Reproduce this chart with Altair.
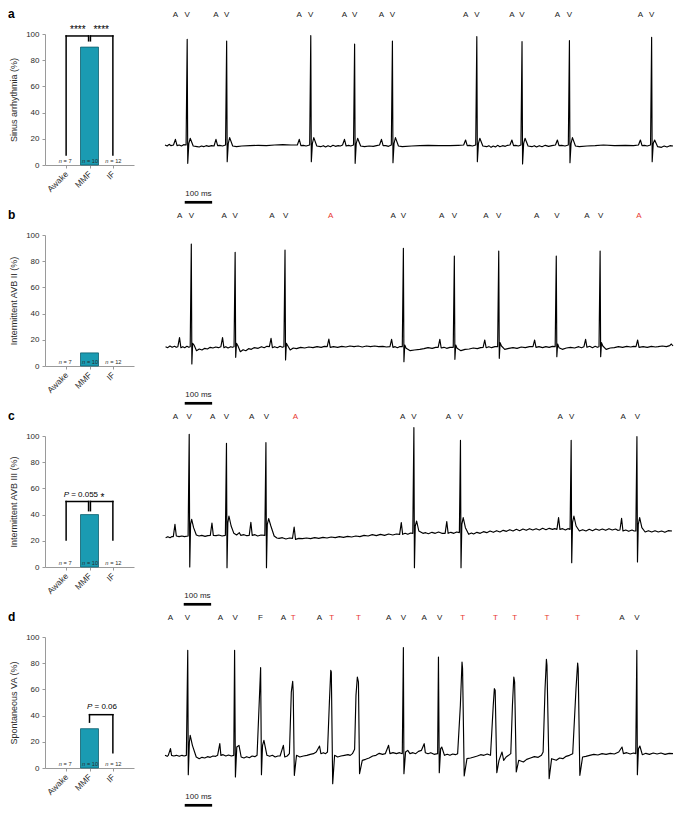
import altair as alt
import pandas as pd

FONT = "Liberation Sans"
TXT = "#2b2b2b"
AX = "#9a9a9a"
RED = "#e8372f"
TEAL = "#1a9bb2"
TEAL_EDGE = "#0f5f6e"

# ---------------- bar panels ----------------
CATS = ["Awake", "MMF", "IF"]
CAT_POS = [0, 1, 2]
N_TEXT = ["= 7", "= 10", "= 12"]
Y_TICKS = [0, 20, 40, 60, 80, 100]

LETTERS = ["a", "b", "c", "d"]
Y_TITLES = ["Sinus arrhythmia (%)", "Intermittent AVB II (%)",
            "Intermittent AVB III (%)", "Spontaneous VA (%)"]
AWAKE_PCT = [0, 0, 0, 0]
MMF_PCT = [90, 10, 40, 30]
IF_PCT = [0, 0, 0, 0]

# significance brackets: (x, y, x2, y2) in category units / percent
BRACKETS_A = [(0, 7.6, 0, 98.5), (0, 98.5, 0.96, 98.5), (0.96, 98.5, 0.96, 94.8),
              (2, 7.6, 2, 98.5), (2, 98.5, 1.04, 98.5), (1.04, 98.5, 1.04, 94.8)]
BRACKETS_B = []
BRACKETS_C = [(0, 20.7, 0, 50), (0, 50, 0.96, 50), (0.96, 50, 0.96, 43),
              (2, 20.7, 2, 50), (2, 50, 1.04, 50), (1.04, 50, 1.04, 43)]
BRACKETS_D = [(1, 35, 1, 40.7), (1, 40.7, 2, 40.7), (2, 40.7, 2, 11.7)]
BRACKETS = [BRACKETS_A, BRACKETS_B, BRACKETS_C, BRACKETS_D]

STARS = [[(0.5, 103, "****"), (1.5, 103, "****")], [], [(1.55, 53, "*")], []]
P_NOTES = [[], [], [(0, 55, "= 0.055")], [(1, 46.6, "= 0.06")]]

# ---------------- ECG traces (t in ms, v in mV) ----------------
TRACE_A = [
    (0, 0.0), (8, -0.03), (15, 0.02), (22, -0.02), (31, 0.0), (38, 0.17), (44, -0.02),
    (52, 0.0), (60, -0.03), (68, 0.01),
    (77, 0.0), (81, 3.17), (83, -0.55), (87, 0.05), (92, 0.2), (103, -0.03), (117, -0.05),
    (125, -0.06), (133, -0.03), (141, -0.05), (150, -0.02), (160, -0.04), (170, -0.02),
    (179, -0.03), (186, 0.17), (192, -0.02), (200, -0.01), (210, -0.03),
    (221, 0.0), (225, 3.12), (227, -0.5), (231, 0.05), (236, 0.22), (247, -0.03), (261, -0.05),
    (280, -0.03), (310, -0.02), (340, -0.01), (370, -0.02), (400, 0.0), (430, 0.01), (460, 0.0),
    (483, 0.0), (490, 0.17), (496, -0.02), (505, -0.01), (515, -0.03),
    (528, 0.0), (532, 3.28), (534, -0.5), (538, 0.05), (543, 0.22), (554, -0.03), (568, -0.05),
    (578, -0.02), (586, -0.06), (595, -0.02), (604, -0.05), (613, -0.01), (622, -0.04), (632, -0.02), (640, -0.03),
    (648, 0.0), (655, 0.17), (661, -0.03), (670, -0.01), (678, -0.03),
    (688, 0.0), (692, 3.03), (694, -0.55), (698, 0.05), (703, 0.2), (714, -0.03), (728, -0.05),
    (745, -0.03), (760, -0.04), (772, -0.02),
    (783, 0.0), (790, 0.17), (796, -0.02), (806, -0.02), (816, -0.04),
    (826, 0.0), (830, 3.12), (832, -0.53), (836, 0.05), (841, 0.22), (852, -0.03), (866, -0.05),
    (900, -0.03), (930, -0.02), (960, -0.01), (1000, -0.02), (1040, -0.02), (1070, -0.01),
    (1090, 0.0), (1097, 0.15), (1103, -0.02), (1112, -0.01), (1122, -0.03),
    (1134, 0.0), (1138, 3.25), (1140, -0.5), (1144, 0.05), (1149, 0.2), (1160, -0.03), (1174, -0.05),
    (1182, -0.02), (1190, -0.07), (1198, -0.03), (1206, -0.06), (1214, -0.01), (1222, -0.05),
    (1232, -0.02), (1242, -0.04), (1250, -0.01),
    (1259, 0.0), (1266, 0.15), (1272, -0.02), (1280, -0.01), (1290, -0.03),
    (1299, 0.0), (1303, 3.10), (1305, -0.57), (1309, 0.05), (1314, 0.2), (1325, -0.03), (1339, -0.05),
    (1348, -0.02), (1356, -0.06), (1366, -0.02), (1376, -0.05), (1388, -0.01), (1400, -0.04), (1412, -0.02),
    (1425, 0.0), (1432, 0.15), (1438, -0.02), (1448, -0.01), (1460, -0.03),
    (1472, 0.0), (1476, 3.13), (1478, -0.53), (1482, 0.05), (1487, 0.22), (1498, -0.03), (1512, -0.05),
    (1540, -0.03), (1570, -0.02), (1600, 0.0), (1640, -0.02), (1680, -0.01), (1710, -0.02),
    (1728, 0.0), (1735, 0.15), (1741, -0.02), (1750, -0.01), (1760, -0.03),
    (1772, 0.0), (1776, 3.23), (1778, -0.5), (1782, 0.05), (1787, 0.15), (1798, -0.05), (1812, -0.07),
    (1822, -0.03), (1832, -0.06), (1843, -0.02), (1854, -0.03)]

TRACE_B = [
    (2, 0.0), (10, -0.03), (18, 0.02), (26, -0.02), (35, 0.01), (41, -0.02), (47, 0.0),
    (53, 0.27), (58, -0.03), (65, 0.0), (72, -0.03), (80, 0.01), (87, -0.02),
    (92, 0.0), (96, 3.08), (98, -0.52), (101, 0.1), (106, 0.05), (115, -0.12), (125, -0.07),
    (135, -0.1), (145, -0.05), (155, -0.07), (165, -0.02), (175, -0.04), (185, -0.01), (195, -0.03),
    (204, 0.0), (210, 0.27), (215, -0.03), (222, 0.0), (230, -0.04), (240, 0.0), (246, -0.02),
    (252, 0.0), (256, 2.83), (258, -0.32), (261, 0.1), (266, 0.03), (275, -0.15), (285, -0.09),
    (295, -0.12), (305, -0.06), (315, -0.08), (325, -0.03), (340, -0.05), (352, 0.0), (362, -0.03), (372, 0.01),
    (381, 0.0), (387, 0.25), (392, -0.03), (400, 0.0), (410, -0.03), (420, 0.01), (428, -0.02),
    (434, 0.0), (438, 2.90), (440, -0.40), (443, 0.1), (448, 0.03), (457, -0.1), (468, -0.04),
    (480, -0.06), (495, -0.02), (510, -0.04), (525, -0.01), (540, -0.03), (555, 0.0), (570, -0.02), (582, 0.01),
    (592, 0.0), (598, 0.23), (603, -0.02), (615, 0.0), (630, -0.02), (645, 0.01), (660, -0.01),
    (675, 0.02), (690, 0.0), (705, 0.02), (720, -0.01), (735, 0.02), (750, 0.0), (765, 0.02),
    (780, 0.0), (795, 0.01), (808, -0.01),
    (821, 0.0), (827, 0.22), (832, -0.02), (840, 0.0), (848, -0.03), (856, 0.0),
    (866, 0.0), (870, 2.95), (872, -0.45), (875, 0.05), (880, -0.05), (895, -0.12), (910, -0.1),
    (930, -0.08), (945, -0.06), (960, -0.03), (975, -0.05), (988, -0.02),
    (997, -0.02), (1003, 0.22), (1008, -0.04), (1018, -0.02), (1028, -0.05), (1040, -0.02),
    (1052, -0.02), (1056, 2.72), (1058, -0.38), (1061, 0.05), (1066, -0.05), (1080, -0.12),
    (1095, -0.08), (1110, -0.07), (1125, -0.04), (1140, -0.06), (1152, -0.03),
    (1161, -0.02), (1167, 0.2), (1172, -0.03), (1182, 0.0), (1192, -0.03), (1204, 0.0),
    (1214, 0.0), (1218, 2.87), (1220, -0.35), (1223, 0.12), (1228, 0.02), (1240, -0.08),
    (1255, -0.05), (1270, -0.03), (1285, -0.05), (1300, -0.01), (1315, -0.03), (1330, 0.0),
    (1343, 0.0), (1349, 0.2), (1354, -0.02), (1365, 0.0), (1378, -0.03), (1390, 0.0), (1402, -0.02), (1414, 0.01),
    (1424, 0.0), (1428, 2.72), (1430, -0.30), (1433, 0.08), (1438, -0.03), (1450, -0.08),
    (1465, -0.04), (1480, -0.02), (1495, -0.04), (1510, 0.0), (1520, -0.03),
    (1529, 0.0), (1535, 0.22), (1540, -0.02), (1550, 0.01), (1560, -0.03), (1570, 0.01), (1578, -0.02),
    (1584, 0.0), (1588, 2.87), (1590, -0.30), (1593, 0.12), (1598, 0.02), (1610, -0.08),
    (1625, -0.04), (1640, -0.03), (1655, 0.0), (1670, -0.02), (1685, 0.01), (1700, -0.01), (1710, 0.01),
    (1719, 0.0), (1725, 0.2), (1730, -0.02), (1745, 0.0), (1760, -0.02), (1775, 0.01),
    (1790, -0.01), (1800, 0.0), (1815, 0.02), (1830, 0.0), (1842, 0.03), (1848, 0.08), (1854, 0.02)]

TRACE_C = [
    (6, -0.05), (14, -0.02), (22, -0.05), (28, -0.02), (34, -0.02), (40, 0.35), (45, 0.0),
    (55, -0.02), (65, 0.0), (75, -0.02),
    (88, 0.0), (92, 3.05), (94, -0.93), (97, 0.35), (101, 0.5), (108, 0.25), (118, 0.03),
    (128, 0.0), (138, 0.02), (150, -0.01), (160, 0.01),
    (169, 0.02), (175, 0.39), (180, 0.02), (190, 0.01), (200, 0.03), (212, 0.0),
    (224, 0.02), (228, 2.78), (230, -0.95), (233, 0.4), (237, 0.6), (245, 0.3), (255, 0.08),
    (265, 0.03), (275, 0.1), (280, 0.02), (292, 0.04), (302, 0.01),
    (311, 0.02), (317, 0.41), (322, 0.02), (332, 0.04), (342, 0.0), (354, 0.03),
    (368, 0.02), (372, 2.80), (374, -0.95), (377, 0.35), (382, 0.52), (390, 0.3), (402, 0.0),
    (412, -0.06), (420, -0.07), (432, -0.05), (445, -0.09), (458, -0.06),
    (469, -0.07), (475, 0.27), (480, -0.1), (492, -0.07), (505, -0.08), (520, -0.06), (535, -0.08),
    (550, -0.05), (565, -0.07), (580, -0.04), (595, -0.06), (610, -0.03), (625, -0.05), (640, -0.02),
    (655, -0.04), (670, -0.01), (685, -0.03), (700, 0.0), (715, -0.02), (730, 0.02), (745, 0.0),
    (760, 0.04), (775, 0.01), (790, 0.05), (805, 0.02), (820, 0.06), (835, 0.03), (848, 0.06),
    (860, 0.05), (866, 0.4), (871, 0.05), (880, 0.08), (890, 0.05), (900, 0.09),
    (908, 0.08), (912, 3.25), (914, -0.95), (917, 0.3), (922, 0.45), (930, 0.15), (945, 0.08),
    (955, 0.1), (965, 0.07), (978, 0.11), (990, 0.08), (1002, 0.12), (1014, 0.08),
    (1026, 0.08), (1032, 0.43), (1037, 0.08), (1047, 0.11), (1058, 0.08), (1068, 0.12),
    (1078, 0.1), (1082, 2.87), (1084, -0.95), (1087, 0.35), (1092, 0.55), (1100, 0.25), (1112, 0.05),
    (1122, 0.09), (1130, 0.06), (1142, 0.11), (1154, 0.08), (1166, 0.13), (1178, 0.1), (1190, 0.15),
    (1202, 0.11), (1214, 0.16), (1226, 0.12), (1238, 0.17), (1250, 0.14), (1262, 0.19), (1274, 0.15),
    (1286, 0.2), (1298, 0.16), (1310, 0.21), (1322, 0.17), (1334, 0.22), (1346, 0.18), (1358, 0.22),
    (1370, 0.18), (1382, 0.23), (1394, 0.19), (1406, 0.23), (1418, 0.2), (1426, 0.22),
    (1434, 0.2), (1440, 0.55), (1445, 0.2), (1455, 0.22), (1465, 0.18), (1474, 0.22),
    (1482, 0.2), (1486, 2.87), (1488, -0.8), (1491, 0.4), (1496, 0.6), (1504, 0.3), (1516, 0.15),
    (1528, 0.19), (1540, 0.15), (1552, 0.2), (1564, 0.16), (1576, 0.21), (1588, 0.17), (1600, 0.21),
    (1612, 0.17), (1624, 0.22), (1636, 0.18), (1648, 0.21), (1656, 0.17),
    (1664, 0.18), (1670, 0.53), (1675, 0.15), (1685, 0.18), (1696, 0.14), (1708, 0.18), (1716, 0.15),
    (1722, 0.15), (1726, 2.98), (1728, -0.78), (1731, 0.35), (1736, 0.55), (1744, 0.25), (1756, 0.12),
    (1768, 0.16), (1780, 0.12), (1792, 0.16), (1804, 0.12), (1816, 0.15), (1828, 0.11), (1840, 0.16),
    (1854, 0.15)]

TRACE_D = [
    (0, 0.0), (8, -0.03), (12, 0.0), (20, 0.2), (24, 0.0), (32, -0.02), (42, 0.0), (52, -0.03),
    (62, 0.0), (70, -0.02),
    (78, 0.0), (83, 3.15), (85, -0.58), (89, 0.4), (92, 0.6), (100, 0.3), (114, -0.05), (125, -0.1),
    (135, -0.06), (145, -0.08), (155, -0.04), (165, -0.06), (175, -0.02), (185, -0.03),
    (192, 0.0), (200, 0.35), (204, 0.0), (212, 0.02), (222, -0.02), (232, 0.01), (242, -0.02),
    (251, 0.0), (254, 3.15), (257, -0.65), (262, 0.25), (270, 0.3), (278, -0.05), (288, -0.08),
    (298, -0.04), (308, -0.07), (318, -0.02), (328, -0.04),
    (336, 0.0), (349, 2.63), (352, -0.58), (356, 0.3), (361, 0.45), (372, 0.0), (382, -0.03),
    (392, 0.0), (402, -0.05), (412, -0.02),
    (420, -0.02), (432, 0.3), (437, -0.05), (446, -0.02),
    (454, 0.05), (461, 1.9), (466, 2.22), (468, 1.9), (472, -0.6), (480, 0.0), (492, -0.05),
    (505, -0.02), (518, 0.0), (530, 0.03), (542, 0.05),
    (552, 0.1), (564, 0.28), (569, 0.05), (578, 0.08), (586, 0.05),
    (593, 0.1), (600, 1.6), (605, 2.55), (607, 2.5), (612, -0.85), (619, 0.0), (630, -0.05),
    (642, -0.02), (655, 0.0), (668, 0.02), (676, 0.0),
    (684, 0.05), (692, 0.18),
    (697, 1.8), (702, 2.35), (706, 2.2), (710, -0.55), (720, -0.15), (732, -0.12), (745, -0.08),
    (758, -0.02), (770, 0.0), (782, 0.06), (794, 0.03),
    (804, 0.05), (816, 0.3), (821, 0.05), (832, 0.08), (845, 0.05), (856, 0.08),
    (866, 0.05), (870, 3.23), (872, -0.55), (878, 0.1), (886, 0.15), (894, 0.05), (905, 0.08),
    (915, 0.05), (925, 0.12),
    (936, 0.15), (946, 0.35), (950, 0.08), (960, 0.05), (970, 0.08), (982, 0.03),
    (995, 0.05), (998, 2.95), (1001, -0.52), (1006, 0.2), (1010, 0.25), (1020, 0.0), (1030, 0.03),
    (1040, 0.0), (1050, 0.04), (1060, 0.02),
    (1068, 0.05), (1078, 1.5), (1084, 2.8), (1086, 2.6), (1092, -0.62), (1102, -0.1), (1115, -0.08),
    (1128, -0.05), (1140, -0.02), (1152, 0.02), (1164, 0.0), (1176, 0.04),
    (1188, 0.0), (1198, 1.5), (1202, 2.0), (1205, 1.95), (1211, -0.52), (1219, -0.15), (1230, 0.1),
    (1236, -0.15), (1245, -0.05), (1254, 0.0),
    (1262, 0.05), (1268, 1.5), (1273, 2.35), (1276, 2.2), (1282, -0.5), (1291, -0.15), (1308, -0.2),
    (1320, -0.12), (1334, -0.08), (1348, -0.04), (1362, -0.06),
    (1374, 0.0), (1380, 0.1), (1387, 2.0), (1392, 2.88), (1394, 2.7), (1402, -0.7), (1411, -0.1),
    (1428, -0.15), (1440, -0.08), (1452, -0.1), (1464, -0.03), (1476, 0.0),
    (1488, 0.05), (1500, 2.0), (1506, 2.77), (1508, 2.6), (1514, -0.6), (1524, -0.05), (1536, -0.03),
    (1550, 0.0), (1565, 0.03), (1580, 0.01), (1595, 0.05), (1610, 0.03), (1625, 0.06), (1640, 0.04),
    (1656, 0.1), (1668, 0.25), (1673, 0.05), (1685, 0.08), (1698, 0.04), (1710, 0.07),
    (1718, 0.05), (1722, 3.15), (1724, -0.58), (1728, 0.2), (1733, 0.28), (1742, 0.02), (1755, 0.06),
    (1768, 0.03), (1782, 0.07), (1796, 0.04), (1810, 0.07), (1825, 0.03), (1840, 0.06), (1854, 0.05)]

# beat annotations: (t ms, letter, red?)
LABELS_A = [(38, "A", 0), (81, "V", 0), (186, "A", 0), (225, "V", 0), (490, "A", 0), (532, "V", 0),
            (655, "A", 0), (692, "V", 0), (790, "A", 0), (830, "V", 0), (1097, "A", 0), (1138, "V", 0),
            (1266, "A", 0), (1303, "V", 0), (1432, "A", 0), (1476, "V", 0), (1735, "A", 0), (1776, "V", 0)]
LABELS_B = [(54, "A", 0), (96, "V", 0), (216, "A", 0), (256, "V", 0), (390, "A", 0), (440, "V", 0),
            (605, "A", 1), (833, "A", 0), (870, "V", 0), (1010, "A", 0), (1056, "V", 0), (1171, "A", 0),
            (1218, "V", 0), (1356, "A", 0), (1430, "V", 0), (1540, "A", 0), (1590, "V", 0), (1730, "A", 1)]
LABELS_C = [(42, "A", 0), (92, "V", 0), (178, "A", 0), (228, "V", 0), (320, "A", 0), (374, "V", 0),
            (480, "A", 1), (871, "A", 0), (912, "V", 0), (1038, "A", 0), (1082, "V", 0), (1446, "A", 0),
            (1488, "V", 0), (1676, "A", 0), (1728, "V", 0)]
LABELS_D = [(20, "A", 0), (82, "V", 0), (202, "A", 0), (256, "V", 0), (348, "F", 0), (432, "A", 0),
            (468, "T", 1), (564, "A", 0), (608, "T", 1), (706, "T", 1), (816, "A", 0), (870, "V", 0),
            (946, "A", 0), (1002, "V", 0), (1086, "T", 1), (1206, "T", 1), (1276, "T", 1), (1394, "T", 1),
            (1506, "T", 1), (1668, "A", 0), (1722, "V", 0)]

TRACES = [TRACE_A, TRACE_B, TRACE_C, TRACE_D]
LABELS = [LABELS_A, LABELS_B, LABELS_C, LABELS_D]
Y_DOMAINS = [[-1.77, 3.33], [-1.75, 3.35], [-2.1, 3.0], [-1.55, 3.55]]
T_DOMAIN = [0, 1854]
SCALE_BAR_MS = [72, 172]
SCALE_BAR_TEXT = "100 ms"

BAR_W, BAR_H = 89, 131
TR_W, TR_H = 508, 170


def bar_panel(i):
    df = pd.DataFrame({"pos": CAT_POS,
                       "value": [AWAKE_PCT[i], MMF_PCT[i], IF_PCT[i]],
                       "n": N_TEXT})
    df["zero"] = 0
    xs = alt.Scale(domain=[-0.69, 2.69], nice=False, zero=False)
    ys = alt.Scale(domain=[0, 100], nice=False)
    x_axis = alt.Axis(values=CAT_POS, labelExpr="['Awake','MMF','IF'][datum.value]",
                      labelAngle=-45, labelAlign="right", labelBaseline="middle",
                      title=None, grid=False, tickSize=3, labelPadding=4,
                      domainColor=AX, tickColor=AX, labelColor=TXT, labelFontSize=8.5,
                      labelFont=FONT)
    y_axis = alt.Axis(values=Y_TICKS, title=Y_TITLES[i], grid=False, tickSize=3,
                      labelPadding=3, domainColor=AX, tickColor=AX, labelColor=TXT,
                      labelFontSize=8, titleFontSize=9, titleFontWeight="normal",
                      titleColor=TXT, titlePadding=7, labelFont=FONT, titleFont=FONT)

    def X(f):
        return alt.X(f, scale=xs, axis=x_axis)

    def Y(f):
        return alt.Y(f, scale=ys, axis=y_axis)

    layers = [
        alt.Chart(df).transform_filter("datum.value > 0")
        .mark_bar(size=18, fill=TEAL, stroke=TEAL_EDGE, strokeWidth=0.8)
        .encode(x=X("pos:Q"), y=Y("value:Q"))
    ]
    if BRACKETS[i]:
        bdf = pd.DataFrame(BRACKETS[i], columns=["bx", "by", "bx2", "by2"])
        layers.append(
            alt.Chart(bdf).mark_rule(color="black", strokeWidth=1.5, strokeCap="square")
            .encode(x=X("bx:Q"), x2="bx2:Q", y=Y("by:Q"), y2="by2:Q"))
    layers.append(
        alt.Chart(df).mark_text(text="n", fontStyle="italic", fontSize=5.7, align="left",
                                baseline="bottom", dx=-7.5, dy=-1.5, color=TXT, font=FONT)
        .encode(x=X("pos:Q"), y=Y("zero:Q")))
    layers.append(
        alt.Chart(df).mark_text(fontSize=5.7, align="left", baseline="bottom",
                                dx=-2.6, dy=-1.5, color=TXT, font=FONT)
        .encode(x=X("pos:Q"), y=Y("zero:Q"), text="n:N"))
    if STARS[i]:
        sdf = pd.DataFrame(STARS[i], columns=["sx", "sy", "st"])
        layers.append(
            alt.Chart(sdf).mark_text(fontSize=10, align="center", baseline="middle",
                                     color="black", font=FONT)
            .encode(x=X("sx:Q"), y=Y("sy:Q"), text="st:N"))
    if P_NOTES[i]:
        pdf = pd.DataFrame(P_NOTES[i], columns=["px", "py", "pt"])
        layers.append(
            alt.Chart(pdf).mark_text(text="P", fontStyle="italic", fontSize=8,
                                     align="left", baseline="middle", dx=-2.5,
                                     color="black", font=FONT)
            .encode(x=X("px:Q"), y=Y("py:Q")))
        layers.append(
            alt.Chart(pdf).mark_text(fontSize=8, align="left", baseline="middle",
                                     dx=5, color="black", font=FONT)
            .encode(x=X("px:Q"), y=Y("py:Q"), text="pt:N"))
    # panel letter
    layers.append(
        alt.Chart(pd.DataFrame({"L": [LETTERS[i]]}))
        .mark_text(align="left", baseline="alphabetic", fontSize=12, fontWeight="bold",
                   color="black", font=FONT)
        .encode(x=alt.value(-37), y=alt.value(-16), text="L:N"))
    return alt.layer(*layers).properties(width=BAR_W, height=BAR_H)


def trace_panel(i):
    tdf = pd.DataFrame(TRACES[i], columns=["t", "v"])
    tdf["i"] = range(len(tdf))
    ldf = pd.DataFrame(LABELS[i], columns=["t", "s", "red"])
    ldf["col"] = [RED if r else "#222222" for r in ldf["red"]]
    xs = alt.Scale(domain=T_DOMAIN, nice=False, zero=False)
    ys = alt.Scale(domain=Y_DOMAINS[i], nice=False, zero=False)
    line = alt.Chart(tdf).mark_line(color="black", strokeWidth=1.15, strokeJoin="round").encode(
        x=alt.X("t:Q", scale=xs, axis=None),
        y=alt.Y("v:Q", scale=ys, axis=None),
        order="i:Q")
    lab = alt.Chart(ldf).mark_text(fontSize=8, baseline="middle", font=FONT).encode(
        x=alt.X("t:Q", axis=None), y=alt.value(-19.5), text="s:N",
        color=alt.Color("col:N", scale=None))
    sb = pd.DataFrame({"t": [SCALE_BAR_MS[0]], "t2": [SCALE_BAR_MS[1]],
                       "tm": [(SCALE_BAR_MS[0] + SCALE_BAR_MS[1]) / 2], "s": [SCALE_BAR_TEXT]})
    bar = alt.Chart(sb).mark_rule(color="black", strokeWidth=2.7).encode(
        x=alt.X("t:Q", axis=None), x2="t2:Q", y=alt.value(168.3))
    txt = alt.Chart(sb).mark_text(fontSize=8, baseline="middle", color="#222222", font=FONT).encode(
        x=alt.X("tm:Q", axis=None), y=alt.value(160), text="s:N")
    return alt.layer(line, lab, bar, txt).properties(width=TR_W, height=TR_H)


rows = [alt.hconcat(bar_panel(i), trace_panel(i), spacing=30) for i in range(4)]
chart = (alt.vconcat(*rows, spacing=5)
         .properties(padding=0)
         .configure_view(stroke=None)
         .configure_axis(labelFont=FONT, titleFont=FONT))

chart.save("out.html", embed_options={"renderer": "svg", "actions": False})
